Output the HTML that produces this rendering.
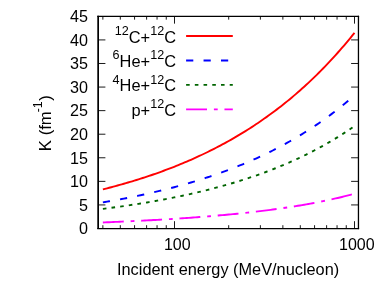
<!DOCTYPE html>
<html><head><meta charset="utf-8"><title>plot</title>
<style>
html,body{margin:0;padding:0;background:#fff;}
body{width:378px;height:294px;overflow:hidden;}
svg{display:block;}
text{font-family:"Liberation Sans",sans-serif;fill:#000;}
svg{will-change:transform;}
</style></head><body>
<svg width="378" height="294" viewBox="0 0 378 294">
<rect x="0" y="0" width="378" height="294" fill="#fff"/>

<path d="M98.20,204.93 h7.2 M358.30,204.93 h-7.2 M98.20,181.36 h7.2 M358.30,181.36 h-7.2 M98.20,157.78 h7.2 M358.30,157.78 h-7.2 M98.20,134.21 h7.2 M358.30,134.21 h-7.2 M98.20,110.64 h7.2 M358.30,110.64 h-7.2 M98.20,87.07 h7.2 M358.30,87.07 h-7.2 M98.20,63.49 h7.2 M358.30,63.49 h-7.2 M98.20,39.92 h7.2 M358.30,39.92 h-7.2 M102.87,228.50 v-3.3 M102.87,16.35 v3.3 M120.31,228.50 v-3.3 M120.31,16.35 v3.3 M134.57,228.50 v-3.3 M134.57,16.35 v3.3 M146.62,228.50 v-3.3 M146.62,16.35 v3.3 M157.06,228.50 v-3.3 M157.06,16.35 v3.3 M166.26,228.50 v-3.3 M166.26,16.35 v3.3 M174.50,228.50 v-7.3 M174.50,16.35 v7.3 M228.69,228.50 v-3.3 M228.69,16.35 v3.3 M260.38,228.50 v-3.3 M260.38,16.35 v3.3 M282.87,228.50 v-3.3 M282.87,16.35 v3.3 M300.31,228.50 v-3.3 M300.31,16.35 v3.3 M314.57,228.50 v-3.3 M314.57,16.35 v3.3 M326.62,228.50 v-3.3 M326.62,16.35 v3.3 M337.06,228.50 v-3.3 M337.06,16.35 v3.3 M346.26,228.50 v-3.3 M346.26,16.35 v3.3 M354.50,228.50 v-7.3 M354.50,16.35 v7.3" stroke="#000" stroke-width="0.9" fill="none"/>
<g fill="none" stroke-width="1.9" stroke-linejoin="round">
<path d="M102.87,189.37 L104.97,188.84 L107.06,188.30 L109.16,187.76 L111.26,187.21 L113.36,186.65 L115.45,186.09 L117.55,185.52 L119.65,184.94 L121.74,184.35 L123.84,183.75 L125.94,183.15 L128.03,182.53 L130.13,181.91 L132.23,181.29 L134.32,180.65 L136.42,180.00 L138.52,179.35 L140.62,178.68 L142.71,178.01 L144.81,177.33 L146.91,176.64 L149.00,175.94 L151.10,175.23 L153.20,174.51 L155.29,173.78 L157.39,173.04 L159.49,172.29 L161.58,171.53 L163.68,170.76 L165.78,169.98 L167.88,169.19 L169.97,168.39 L172.07,167.58 L174.17,166.76 L176.26,165.93 L178.36,165.08 L180.46,164.22 L182.55,163.36 L184.65,162.48 L186.75,161.59 L188.84,160.68 L190.94,159.77 L193.04,158.84 L195.13,157.90 L197.23,156.94 L199.33,155.98 L201.43,155.00 L203.52,154.01 L205.62,153.00 L207.72,151.98 L209.81,150.95 L211.91,149.90 L214.01,148.84 L216.10,147.76 L218.20,146.67 L220.30,145.57 L222.39,144.45 L224.49,143.31 L226.59,142.16 L228.69,141.00 L230.78,139.82 L232.88,138.62 L234.98,137.41 L237.07,136.18 L239.17,134.93 L241.27,133.67 L243.36,132.39 L245.46,131.09 L247.56,129.77 L249.65,128.44 L251.75,127.09 L253.85,125.72 L255.95,124.33 L258.04,122.92 L260.14,121.50 L262.24,120.05 L264.33,118.59 L266.43,117.11 L268.53,115.60 L270.62,114.08 L272.72,112.53 L274.82,110.97 L276.91,109.38 L279.01,107.77 L281.11,106.14 L283.21,104.49 L285.30,102.81 L287.40,101.12 L289.50,99.40 L291.59,97.65 L293.69,95.89 L295.79,94.10 L297.88,92.28 L299.98,90.44 L302.08,88.58 L304.17,86.69 L306.27,84.78 L308.37,82.83 L310.46,80.87 L312.56,78.87 L314.66,76.85 L316.76,74.81 L318.85,72.73 L320.95,70.63 L323.05,68.50 L325.14,66.34 L327.24,64.15 L329.34,61.93 L331.43,59.68 L333.53,57.40 L335.63,55.09 L337.72,52.75 L339.82,50.37 L341.92,47.97 L344.02,45.53 L346.11,43.06 L348.21,40.56 L350.31,38.02 L352.40,35.45 L354.50,32.84" stroke="#ff0000"/>
<path d="M102.87,202.38 L104.97,202.03 L107.06,201.67 L109.16,201.31 L111.26,200.94 L113.36,200.57 L115.45,200.19 L117.55,199.80 L119.65,199.42 L121.74,199.02 L123.84,198.62 L125.94,198.22 L128.03,197.81 L130.13,197.39 L132.23,196.97 L134.32,196.54 L136.42,196.11 L138.52,195.67 L140.62,195.23 L142.71,194.78 L144.81,194.32 L146.91,193.86 L149.00,193.39 L151.10,192.91 L153.20,192.43 L155.29,191.94 L157.39,191.44 L159.49,190.94 L161.58,190.43 L163.68,189.91 L165.78,189.39 L167.88,188.86 L169.97,188.32 L172.07,187.78 L174.17,187.22 L176.26,186.66 L178.36,186.09 L180.46,185.52 L182.55,184.93 L184.65,184.34 L186.75,183.74 L188.84,183.14 L190.94,182.52 L193.04,181.89 L195.13,181.26 L197.23,180.62 L199.33,179.97 L201.43,179.31 L203.52,178.64 L205.62,177.96 L207.72,177.27 L209.81,176.57 L211.91,175.87 L214.01,175.15 L216.10,174.42 L218.20,173.69 L220.30,172.94 L222.39,172.18 L224.49,171.42 L226.59,170.64 L228.69,169.85 L230.78,169.05 L232.88,168.24 L234.98,167.42 L237.07,166.58 L239.17,165.74 L241.27,164.88 L243.36,164.01 L245.46,163.13 L247.56,162.24 L249.65,161.33 L251.75,160.41 L253.85,159.48 L255.95,158.54 L258.04,157.58 L260.14,156.61 L262.24,155.63 L264.33,154.63 L266.43,153.62 L268.53,152.59 L270.62,151.55 L272.72,150.50 L274.82,149.43 L276.91,148.34 L279.01,147.24 L281.11,146.13 L283.21,145.00 L285.30,143.85 L287.40,142.69 L289.50,141.51 L291.59,140.32 L293.69,139.10 L295.79,137.88 L297.88,136.63 L299.98,135.36 L302.08,134.08 L304.17,132.78 L306.27,131.47 L308.37,130.13 L310.46,128.77 L312.56,127.40 L314.66,126.00 L316.76,124.59 L318.85,123.16 L320.95,121.70 L323.05,120.23 L325.14,118.74 L327.24,117.22 L329.34,115.68 L331.43,114.12 L333.53,112.54 L335.63,110.94 L337.72,109.31 L339.82,107.66 L341.92,105.99 L344.02,104.30 L346.11,102.58 L348.21,100.83 L350.31,99.07 L352.40,97.27 L354.50,95.45" stroke="#0000ff" stroke-dasharray="7.2 10.25"/>
<path d="M102.87,208.88 L104.97,208.62 L107.06,208.35 L109.16,208.07 L111.26,207.80 L113.36,207.51 L115.45,207.23 L117.55,206.94 L119.65,206.65 L121.74,206.35 L123.84,206.05 L125.94,205.74 L128.03,205.43 L130.13,205.12 L132.23,204.80 L134.32,204.48 L136.42,204.15 L138.52,203.82 L140.62,203.49 L142.71,203.15 L144.81,202.80 L146.91,202.45 L149.00,202.10 L151.10,201.74 L153.20,201.37 L155.29,201.00 L157.39,200.63 L159.49,200.25 L161.58,199.86 L163.68,199.47 L165.78,199.07 L167.88,198.67 L169.97,198.26 L172.07,197.85 L174.17,197.43 L176.26,197.01 L178.36,196.58 L180.46,196.14 L182.55,195.70 L184.65,195.25 L186.75,194.79 L188.84,194.33 L190.94,193.86 L193.04,193.39 L195.13,192.91 L197.23,192.42 L199.33,191.92 L201.43,191.42 L203.52,190.91 L205.62,190.40 L207.72,189.87 L209.81,189.34 L211.91,188.80 L214.01,188.26 L216.10,187.70 L218.20,187.14 L220.30,186.57 L222.39,185.99 L224.49,185.41 L226.59,184.81 L228.69,184.21 L230.78,183.60 L232.88,182.98 L234.98,182.35 L237.07,181.71 L239.17,181.06 L241.27,180.41 L243.36,179.74 L245.46,179.06 L247.56,178.38 L249.65,177.68 L251.75,176.98 L253.85,176.26 L255.95,175.53 L258.04,174.80 L260.14,174.05 L262.24,173.29 L264.33,172.52 L266.43,171.74 L268.53,170.95 L270.62,170.15 L272.72,169.33 L274.82,168.50 L276.91,167.66 L279.01,166.81 L281.11,165.95 L283.21,165.07 L285.30,164.18 L287.40,163.28 L289.50,162.36 L291.59,161.43 L293.69,160.49 L295.79,159.53 L297.88,158.56 L299.98,157.58 L302.08,156.58 L304.17,155.56 L306.27,154.53 L308.37,153.49 L310.46,152.42 L312.56,151.35 L314.66,150.25 L316.76,149.15 L318.85,148.02 L320.95,146.88 L323.05,145.72 L325.14,144.54 L327.24,143.35 L329.34,142.14 L331.43,140.91 L333.53,139.66 L335.63,138.39 L337.72,137.10 L339.82,135.80 L341.92,134.47 L344.02,133.13 L346.11,131.76 L348.21,130.38 L350.31,128.97 L352.40,127.55 L354.50,126.10" stroke="#006400" stroke-dasharray="3.6 5.12"/>
<path d="M102.87,222.43 L104.97,222.35 L107.06,222.27 L109.16,222.18 L111.26,222.09 L113.36,222.01 L115.45,221.92 L117.55,221.83 L119.65,221.73 L121.74,221.64 L123.84,221.55 L125.94,221.45 L128.03,221.35 L130.13,221.26 L132.23,221.16 L134.32,221.05 L136.42,220.95 L138.52,220.85 L140.62,220.74 L142.71,220.63 L144.81,220.53 L146.91,220.42 L149.00,220.30 L151.10,220.19 L153.20,220.07 L155.29,219.96 L157.39,219.84 L159.49,219.72 L161.58,219.60 L163.68,219.47 L165.78,219.35 L167.88,219.22 L169.97,219.09 L172.07,218.96 L174.17,218.82 L176.26,218.69 L178.36,218.55 L180.46,218.41 L182.55,218.27 L184.65,218.13 L186.75,217.98 L188.84,217.83 L190.94,217.68 L193.04,217.53 L195.13,217.37 L197.23,217.22 L199.33,217.06 L201.43,216.90 L203.52,216.73 L205.62,216.56 L207.72,216.39 L209.81,216.22 L211.91,216.05 L214.01,215.87 L216.10,215.69 L218.20,215.51 L220.30,215.32 L222.39,215.13 L224.49,214.94 L226.59,214.74 L228.69,214.55 L230.78,214.34 L232.88,214.14 L234.98,213.93 L237.07,213.72 L239.17,213.51 L241.27,213.29 L243.36,213.07 L245.46,212.84 L247.56,212.61 L249.65,212.38 L251.75,212.14 L253.85,211.90 L255.95,211.66 L258.04,211.41 L260.14,211.16 L262.24,210.90 L264.33,210.64 L266.43,210.37 L268.53,210.10 L270.62,209.83 L272.72,209.55 L274.82,209.27 L276.91,208.98 L279.01,208.68 L281.11,208.38 L283.21,208.08 L285.30,207.77 L287.40,207.46 L289.50,207.14 L291.59,206.81 L293.69,206.48 L295.79,206.14 L297.88,205.80 L299.98,205.45 L302.08,205.09 L304.17,204.73 L306.27,204.36 L308.37,203.99 L310.46,203.61 L312.56,203.22 L314.66,202.82 L316.76,202.42 L318.85,202.01 L320.95,201.59 L323.05,201.16 L325.14,200.73 L327.24,200.29 L329.34,199.84 L331.43,199.38 L333.53,198.91 L335.63,198.44 L337.72,197.96 L339.82,197.46 L341.92,196.96 L344.02,196.45 L346.11,195.93 L348.21,195.40 L350.31,194.85 L352.40,194.30 L354.50,193.74" stroke="#ff00ff" stroke-dasharray="20.9 6.9 3.8 6.75"/>
<path d="M186.1,36.0 H232.8" stroke="#ff0000"/>
<path d="M186.1,60.5 H232.8" stroke="#0000ff" stroke-dasharray="7.2 10.25"/>
<path d="M186.1,84.9 H232.8" stroke="#006400" stroke-dasharray="3.6 5.12"/>
<path d="M186.1,109.4 H232.8" stroke="#ff00ff" stroke-dasharray="20.9 6.9 3.8 6.75"/>
</g>
<g stroke="#000" fill="none">
<path d="M97.3,16.4 H359.1" stroke-width="1.25"/>
<path d="M97.3,228.5 H359.1" stroke-width="1.25"/>
<path d="M358.45,15.78 V229.12" stroke-width="1.3"/>
<path d="M98.15,15.78 V229.12" stroke-width="1.7"/>
</g>
<text x="88" y="234.25" font-size="16.15" text-anchor="end">0</text>
<text x="88" y="210.68" font-size="16.15" text-anchor="end">5</text>
<text x="88" y="187.11" font-size="16.15" text-anchor="end">10</text>
<text x="88" y="163.53" font-size="16.15" text-anchor="end">15</text>
<text x="88" y="139.96" font-size="16.15" text-anchor="end">20</text>
<text x="88" y="116.39" font-size="16.15" text-anchor="end">25</text>
<text x="88" y="92.82" font-size="16.15" text-anchor="end">30</text>
<text x="88" y="69.24" font-size="16.15" text-anchor="end">35</text>
<text x="88" y="45.67" font-size="16.15" text-anchor="end">40</text>
<text x="88" y="22.10" font-size="16.15" text-anchor="end">45</text>
<text x="177.30" y="250.4" font-size="16" text-anchor="middle">100</text>
<text x="356.80" y="250.4" font-size="16" text-anchor="middle">1000</text>
<text x="228.1" y="275.1" font-size="16.32" text-anchor="middle">Incident energy (MeV/nucleon)</text>
<text transform="translate(50.7,123.2) rotate(-90)" font-size="16.7" text-anchor="middle">K (fm<tspan font-size="12.2" dy="-8.3" dx="-1.0">-1</tspan><tspan dy="8.3" dx="0.6">)</tspan></text>
<text x="176" y="42.90" font-size="16.4" text-anchor="end"><tspan font-size="12.6" dy="-7.8">12</tspan><tspan dy="7.8">C+</tspan><tspan font-size="12.6" dy="-7.8">12</tspan><tspan dy="7.8">C</tspan></text>
<text x="176" y="66.50" font-size="16.4" text-anchor="end"><tspan font-size="12.6" dy="-7.8">6</tspan><tspan dy="7.8">He+</tspan><tspan font-size="12.6" dy="-7.8">12</tspan><tspan dy="7.8">C</tspan></text>
<text x="176" y="91.40" font-size="16.4" text-anchor="end"><tspan font-size="12.6" dy="-7.8">4</tspan><tspan dy="7.8">He+</tspan><tspan font-size="12.6" dy="-7.8">12</tspan><tspan dy="7.8">C</tspan></text>
<text x="176" y="116.20" font-size="16.4" text-anchor="end"><tspan>p+</tspan><tspan font-size="12.6" dy="-7.8">12</tspan><tspan dy="7.8">C</tspan></text>
</svg></body></html>
